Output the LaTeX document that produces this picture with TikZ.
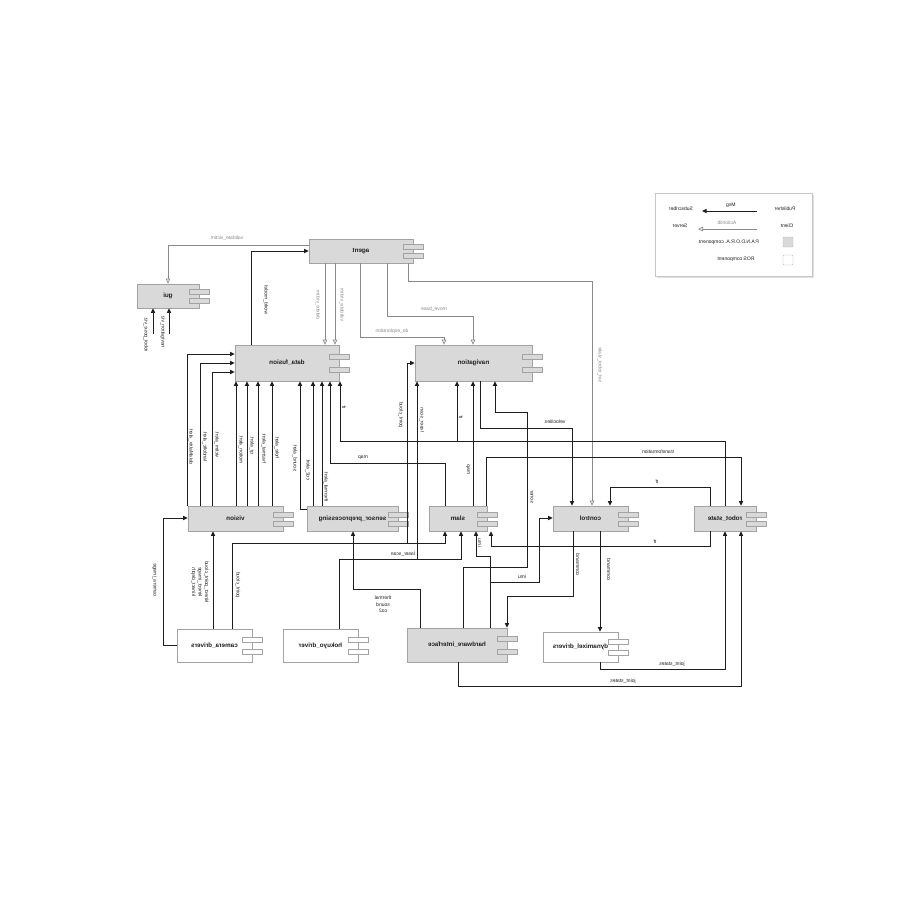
\documentclass[tikz,border=0pt]{standalone}
\usepackage{graphicx}
\usepackage{fontspec}
\setmainfont{Liberation Sans}
\usetikzlibrary{arrows.meta}
\definecolor{boxfill}{HTML}{D9D9D9}
\definecolor{boxline}{HTML}{A3A3A3}
\definecolor{actline}{HTML}{8A8A8A}
\definecolor{ink}{HTML}{1E1E1E}
\tikzset{
 comp/.style={draw=boxline, line width=0.6pt, inner sep=0pt, font=\fontsize{6.3}{7}\selectfont\bfseries, text=ink},
 icon/.style={draw=boxline, line width=0.5pt},
 msg/.style={draw=ink, line width=1pt, -{Triangle[length=4.5pt,width=4pt]}},
 msgl/.style={draw=ink, line width=1pt},
 act/.style={draw=actline, line width=0.7pt, -{Triangle[open,length=5pt,width=4.5pt]}},
 lab/.style={font=\fontsize{5}{6.5}\selectfont, text=ink, inner sep=0pt},
 vlab/.style={lab, rotate=-90},
 alab/.style={lab, text=actline},
 valab/.style={alab, rotate=-90},
 leg/.style={font=\fontsize{5}{6}\selectfont, text=ink, inner sep=0pt},
}
\newcommand\compbox[7]{%
 \node[comp, fill=#2, minimum width={#5-#3}, minimum height={#6-#4}] (#1) at ({(#3+#5)/2},{(#4+#6)/2}) {\reflectbox{#7}};
 \draw[icon, fill=#2] ({#5-10},{#4+0.33*(#6-#4)-2.5}) rectangle ++(20,5);
 \draw[icon, fill=#2] ({#5-10},{#4+0.70*(#6-#4)-2.5}) rectangle ++(20,5);
}
\begin{document}
\begin{tikzpicture}[x=1pt,y=-1pt]
\fill[white] (0,0) rectangle (900,900);
\useasboundingbox (0,0) rectangle (900,900);

% components
\compbox{agent}{boxfill}{309}{239}{413}{263}{agent}
\compbox{gui}{boxfill}{137}{284}{199}{308}{gui}
\compbox{df}{boxfill}{235}{345}{339}{381}{data\_fusion}
\compbox{nav}{boxfill}{415}{345}{532}{381}{navigation}
\compbox{vision}{boxfill}{188}{506}{283}{531}{vision}
\compbox{sensor}{boxfill}{307}{506}{398}{531}{sensor\_preprocessing}
\compbox{slam}{boxfill}{429}{506}{487}{531}{slam}
\compbox{control}{boxfill}{553}{506}{628}{531}{control}
\compbox{rstate}{boxfill}{694}{506}{756}{531}{robot\_state}
\compbox{cam}{white}{177}{629}{252}{662}{camera\_drivers}
\compbox{hok}{white}{283}{629}{358}{662}{hokuyo\_driver}
\compbox{hw}{boxfill}{407}{628}{507}{662}{hardware\_interface}
\compbox{dyn}{white}{543}{632}{618}{662}{dynamixel\_drivers}

% agent connections
\draw[act] (agent.west |- 0,245) -- (168,245) -- (168,0 |- gui.north);
\node[alab] (l1) at (227,238) {\reflectbox{validate\_victim}};
\draw[msg] (251,0 |- df.north) -- (251,251) -- (agent.west |- 0,251);
\node[vlab] (l2) at (266,300) {\reflectbox{world\_model}};
\draw[act] (325,0 |- agent.south) -- (325,0 |- df.north);
\draw[act] (335,0 |- agent.south) -- (335,0 |- df.north);
\node[valab] (l3) at (318,305) {\reflectbox{delete\_victim}};
\node[valab] (l4) at (342,305) {\reflectbox{validate\_victim}};
\draw[act] (360,0 |- agent.south) -- (360,337) -- (444,337) -- (444,0 |- nav.north);
\node[alab] (l5) at (392,331) {\reflectbox{do\_exploration}};
\draw[act] (387,0 |- agent.south) -- (387,316) -- (473,316) -- (473,0 |- nav.north);
\node[alab] (l6) at (434,309) {\reflectbox{move\_base}};
\draw[act] (408,0 |- agent.south) -- (408,281) -- (592,281) -- (592,0 |- control.north);
\node[valab] (l7) at (600,365) {\reflectbox{set\_robot\_state}};

% gui inputs
\coordinate (g1) at (153,334);
\coordinate (g2) at (169,334);
\draw[msg] (g1) -- (g1 |- gui.south);
\draw[msg] (g2) -- (g2 |- gui.south);
\node[vlab] (l8) at (146,335) {\reflectbox{robot\_pose\_viz}};
\node[vlab] (l9) at (163,332) {\reflectbox{navigation\_viz}};

% vision -> data_fusion
\draw[msg] (187,0 |- vision.north) -- (187,354) -- (df.west |- 0,354);
\draw[msg] (200,0 |- vision.north) -- (200,363) -- (df.west |- 0,363);
\draw[msg] (212,0 |- vision.north) -- (212,372) -- (df.west |- 0,372);
\draw[msg] (236,0 |- vision.north) -- (236,0 |- df.south);
\draw[msg] (247,0 |- vision.north) -- (247,0 |- df.south);
\draw[msg] (258,0 |- vision.north) -- (258,0 |- df.south);
\draw[msg] (272,0 |- vision.north) -- (272,0 |- df.south);
\node[vlab] (a1) at (191,447) {\reflectbox{dataMatrix\_alert}};
\node[vlab] (a2) at (205,447) {\reflectbox{landoltc\_alert}};
\node[vlab] (a3) at (217,445) {\reflectbox{victim\_alert}};
\node[vlab] (a4) at (241,450) {\reflectbox{motion\_alert}};
\node[vlab] (a5) at (252,446) {\reflectbox{qr\_alert}};
\node[vlab] (a6) at (264,449) {\reflectbox{hazmat\_alert}};
\node[vlab] (a7) at (277,448) {\reflectbox{hole\_alert}};

% sensor_preprocessing -> data_fusion
\draw[msg] (sensor.west |- 0,509) -- (300,509) -- (300,0 |- df.south);
\draw[msg] (313,0 |- sensor.north) -- (313,0 |- df.south);
\draw[msg] (322,0 |- sensor.north) -- (322,0 |- df.south);
\node[vlab] (a8) at (295,458) {\reflectbox{sound\_alert}};
\node[vlab] (a9) at (308,470) {\reflectbox{co2\_alert}};
\node[vlab] (a10) at (326,487) {\reflectbox{thermal\_alert}};

% map
\draw[msg] (445,0 |- slam.north) -- (445,463) -- (330,463) -- (330,0 |- df.south);
\node[lab] (l10) at (363,458) {\reflectbox{map}};
\draw[msg] (473,0 |- slam.north) -- (473,0 |- nav.south);
\node[vlab] (l11) at (468,470) {\reflectbox{map}};

% tf bus
\draw[msg] (725,0 |- rstate.north) -- (725,441) -- (340,441) -- (340,0 |- df.south);
\draw[msg] (457,441) -- (457,0 |- nav.south);
\node[vlab] (l12) at (344,407) {\reflectbox{tf}};
\node[vlab] (l13) at (461,417) {\reflectbox{tf}};

% transformation
\draw[msg] (486,0 |- slam.north) -- (486,457) -- (741,457) -- (741,0 |- rstate.north);
\node[lab] (l14) at (658,452) {\reflectbox{transformation}};

% velocities
\draw[msg] (480,0 |- nav.south) -- (480,428) -- (572,428) -- (572,0 |- control.north);
\node[lab] (l15) at (555,422) {\reflectbox{velocities}};

% sonar
\draw[msg] (463,0 |- hw.north) -- (463,567) -- (527,567) -- (527,412) -- (495,412) -- (495,0 |- nav.south);
\node[vlab] (l16) at (532,497) {\reflectbox{sonar}};

% point cloud
\draw[msg] (232,0 |- cam.north) -- (232,543) -- (445,543) -- (445,0 |- slam.south);
\draw[msg] (407,543) -- (407,363) -- (nav.west |- 0,363);
\node[vlab] (l17) at (238,585) {\reflectbox{point\_cloud}};
\node[vlab] (l18) at (401,415) {\reflectbox{point\_cloud}};

% laser scan
\draw[msg] (339,0 |- hok.north) -- (339,559) -- (461,559) -- (461,0 |- slam.south);
\draw[msg] (417,559) -- (417,0 |- nav.south);
\node[lab] (l19) at (403,554) {\reflectbox{laser\_scan}};
\node[vlab] (l20) at (422,420) {\reflectbox{laser\_scan}};

% imu
\draw[msg] (490,0 |- hw.north) -- (490,556) -- (476,556) -- (476,0 |- slam.south);
\draw[msg] (490,582) -- (539,582) -- (539,518) -- (control.west |- 0,518);
\node[vlab] (l21) at (480,543) {\reflectbox{imu}};
\node[lab] (l22) at (522,577) {\reflectbox{imu}};

% tf to slam and control
\draw[msg] (710,0 |- rstate.south) -- (710,546) -- (491,546) -- (491,0 |- slam.south);
\node[lab] (l23) at (655,542) {\reflectbox{tf}};
\draw[msg] (710,0 |- rstate.north) -- (710,487) -- (610,487) -- (610,0 |- control.north);
\node[lab] (l24) at (657,482) {\reflectbox{tf}};

% hardware -> sensor
\draw[msg] (420,0 |- hw.north) -- (420,589) -- (353,589) -- (353,0 |- sensor.south);
\node[lab, align=center] (l25) at (383,605) {\reflectbox{\begin{tabular}{@{}c@{}}thermal\\sound\\co2\end{tabular}}};

% commands
\draw[msg] (573,0 |- control.south) -- (573,596) -- (507,596) -- (507,0 |- hw.north);
\node[vlab] (l26) at (578,565) {\reflectbox{command}};
\draw[msg] (600,0 |- control.south) -- (600,0 |- dyn.north);
\node[vlab] (l27) at (609,570) {\reflectbox{command}};

% joint states
\draw[msg] (600,0 |- dyn.south) -- (600,669) -- (725,669) -- (725,0 |- rstate.south);
\node[lab] (l28) at (672,664) {\reflectbox{joint\_states}};
\draw[msg] (458,0 |- hw.south) -- (458,686) -- (741,686) -- (741,0 |- rstate.south);
\node[lab] (l29) at (623,681) {\reflectbox{joint\_states}};

% camera -> vision
\draw[msg] (cam.west) -- (163,0 |- cam.west) -- (163,518) -- (vision.west |- 0,518);
\node[vlab] (l30) at (155,580) {\reflectbox{camera\_image}};
\draw[msg] (213,0 |- cam.north) -- (213,0 |- vision.south);
\node[vlab, align=center] (l31) at (200,582) {\reflectbox{\begin{tabular}{@{}c@{}}kinect\_point\_cloud\\kinect\_image\\kinect\_depth\end{tabular}}};

% legend
\fill[black!12] (657,195) rectangle (814,278);
\draw[draw=black!22, fill=white, line width=0.5pt] (655,193) rectangle (812,276);
\node[leg] (pub) at (785,209) {\reflectbox{Publisher}};
\node[leg] (sub) at (681,209) {\reflectbox{Subscriber}};
\coordinate (m1) at (757,211);
\coordinate (m2) at (702,211);
\draw[msg] (m1) -- (m2);
\node[leg] (msgl) at (731,205) {\reflectbox{Msg}};
\node[leg] (cli) at (787,226) {\reflectbox{Client}};
\node[leg] (srv) at (680,226) {\reflectbox{Server}};
\coordinate (c1) at (757,229);
\coordinate (c2) at (698,229);
\draw[act] (c1) -- (c2);
\node[leg, text=actline] (actl) at (727,223) {\reflectbox{Actionlib}};
\node[draw=black!25, fill=boxfill, minimum size=10pt, inner sep=0pt, rounded corners=1pt] (sq1) at (788,242) {};
\node[leg] (pc) at (729,242) {\reflectbox{P.A.N.D.O.R.A. component}};
\node[draw=black!25, fill=white, minimum size=10pt, inner sep=0pt, rounded corners=1pt] (sq2) at (788,260) {};
\node[leg] (rc) at (736,259) {\reflectbox{ROS component}};
\end{tikzpicture}
\end{document}
